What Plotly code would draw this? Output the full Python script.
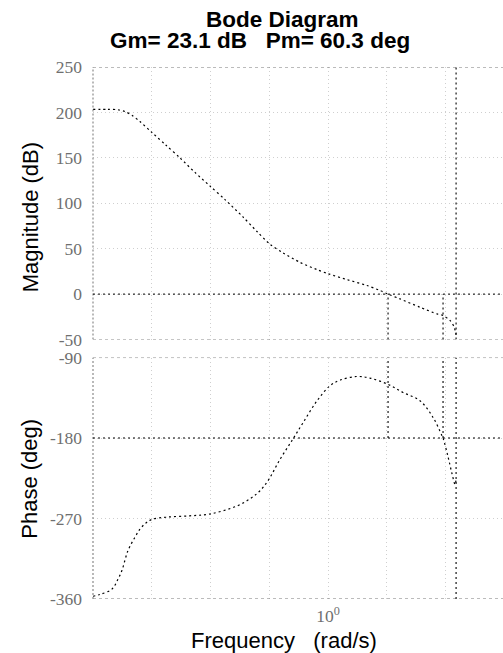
import plotly.graph_objects as go

# ---------------- data ----------------
mag_w = [0.3978, 0.4218, 0.4387, 0.4510, 0.4635, 0.4783, 0.5013, 0.5297, 0.5596, 0.5934,
         0.6295, 0.6677, 0.7164, 0.7568, 0.7963, 0.8381, 0.8960, 0.9578, 1.0, 1.0773,
         1.1653, 1.2262, 1.2656, 1.3265, 1.4349, 1.5337, 1.5702, 1.6139, 1.6397, 1.6526]
mag_db = [203.5, 203.5, 203, 201, 197, 190, 178, 164, 150, 134,
          119, 104, 85, 69, 55, 45.5, 35, 27, 22.5, 16,
          9.5, 4, 0, -5.3, -14.5, -21.8, -23.5, -29, -36, -45]

phase_w = [0.3978, 0.4088, 0.4285, 0.4387, 0.4457, 0.4563, 0.4690, 0.4783, 0.4896, 0.5013,
           0.5317, 0.5819, 0.6295, 0.6998, 0.7421, 0.7659, 0.7900, 0.8283, 0.8717, 0.9066,
           0.9578, 1.0079, 1.0482, 1.1205, 1.1792, 1.2656, 1.3421, 1.4349, 1.5099, 1.5640,
           1.5702, 1.6013, 1.6266, 1.6461, 1.6526]
phase_deg = [-357, -355, -349, -338, -328, -306, -291, -282, -275, -271,
             -268.5, -267, -265, -256, -246.5, -239, -228, -204, -181, -163,
             -138.4, -121.6, -115.3, -111.2, -113, -120, -129, -138.4, -157, -177.5,
             -180, -201, -220, -232, -226]

gain_margin_db = 23.1
phase_margin_deg = 60.3
w_gain_cross = 1.2656      # 0 dB crossover
w_phase_cross = 1.5702     # -180 deg crossover
w_nyquist = 1.6526

x_range_log = [-0.4003, 0.2981]
x_grid = [0.3981, 0.5012, 0.6310, 0.7943, 1.0, 1.2589, 1.5849]
x_ticktext = ["", "", "", "", "10<sup>0</sup>", "", ""]

mag_ticks = [-50, 0, 50, 100, 150, 200, 250]
mag_ticktext = ["-50", "0", "50", "100", "150", "200", "250"]
phase_ticks = [-360, -270, -180, -90]
phase_ticktext = ["-360", "-270", "-180", "-90"]

title_line1 = "Bode Diagram"
title_line2 = f"Gm= {gain_margin_db} dB   Pm= {phase_margin_deg} deg"

# ---------------- layout helpers ----------------
W, H = 503, 653
L = 93
PW = W - L
OFF = 10         # observed vertical inset of the rendered page
EFF = 632


def px(xp):
    return (xp - L) / PW


def py(yp):
    return 1 - (yp - OFF) / EFF


top_dom = [py(339), py(67)]
bot_dom = [py(598), py(357)]

tick_font = dict(family="Liberation Serif", size=17.5, color="#6f6f6f")
grid_col = "#cfcfcf"
border_col = "#8a8a8a"
curve_dash = "2px,3px"

fig = go.Figure()
fig.add_trace(go.Scatter(x=mag_w, y=mag_db, mode="lines", xaxis="x", yaxis="y",
                         line=dict(color="black", width=1.2, dash=curve_dash, shape="spline",
                                   smoothing=0.8),
                         showlegend=False, hoverinfo="skip"))
fig.add_trace(go.Scatter(x=phase_w, y=phase_deg, mode="lines", xaxis="x2", yaxis="y2",
                         line=dict(color="black", width=1.2, dash=curve_dash, shape="spline"),
                         showlegend=False, hoverinfo="skip"))

xcommon = dict(type="log", range=x_range_log, tickmode="array", tickvals=x_grid,
               showgrid=True, gridcolor=grid_col, griddash="1px,3px", gridwidth=1,
               zeroline=False, showline=False, ticks="", tickfont=tick_font)
ycommon = dict(showgrid=True, gridcolor=grid_col, griddash="1px,3px", gridwidth=1,
               zeroline=False, showline=False, ticks="", tickfont=tick_font,
               tickmode="array", ticklabelstandoff=10)

fig.update_layout(
    width=W, height=H,
    margin=dict(l=L, r=0, t=0, b=0),
    paper_bgcolor="white", plot_bgcolor="white",
    xaxis=dict(**xcommon, domain=[0, 1], anchor="y", showticklabels=False,
               ticktext=x_ticktext),
    xaxis2=dict(**xcommon, domain=[0, 1], anchor="y2", matches="x",
                ticktext=x_ticktext, ticklabelstandoff=5),
    yaxis=dict(**ycommon, domain=top_dom, range=[-50, 250], tickvals=mag_ticks,
               ticktext=mag_ticktext, anchor="x"),
    yaxis2=dict(**ycommon, domain=bot_dom, range=[-360, -90], tickvals=phase_ticks,
                ticktext=phase_ticktext, anchor="x2"),
)

shapes = []
# panel borders
for yref, lo, hi in (("y", -50, 250), ("y2", -360, -90)):
    xref = "x" if yref == "y" else "x2"
    for yv in (lo, hi):
        shapes.append(dict(type="line", xref=f"{xref} domain", yref=yref, x0=0, x1=1,
                           y0=yv, y1=yv, line=dict(color=border_col, width=1, dash="3px,3px")))
    shapes.append(dict(type="line", xref=f"{xref} domain", yref=yref, x0=0, x1=0,
                       y0=lo, y1=hi, line=dict(color=border_col, width=1.2, dash="2px,2px")))
# reference lines
shapes.append(dict(type="line", xref="x domain", yref="y", x0=0, x1=1, y0=0, y1=0,
                   line=dict(color="black", width=1, dash="2px,3px")))
shapes.append(dict(type="line", xref="x2 domain", yref="y2", x0=0, x1=1, y0=-180, y1=-180,
                   line=dict(color="black", width=1, dash="2px,3px")))
vline = dict(color="black", width=1.1, dash="2px,3px")
for wv in (w_gain_cross, w_phase_cross):
    shapes.append(dict(type="line", xref="x", yref="y", x0=wv, x1=wv, y0=-50, y1=0, line=vline))
    shapes.append(dict(type="line", xref="x2", yref="y2", x0=wv, x1=wv, y0=-180, y1=-90, line=vline))
shapes.append(dict(type="line", xref="x", yref="y", x0=w_nyquist, x1=w_nyquist, y0=-50, y1=250, line=vline))
shapes.append(dict(type="line", xref="x2", yref="y2", x0=w_nyquist, x1=w_nyquist, y0=-360, y1=-90, line=vline))
fig.update_layout(shapes=shapes)

title_font = dict(family="Liberation Sans", size=22.5, color="black")
label_font = dict(family="Liberation Sans", size=22, color="black")
nb = chr(160)
annotations = [
    dict(text=f"<b>{title_line1}</b>", x=px(282), y=py(19), xref="paper", yref="paper",
         showarrow=False, font=title_font, xanchor="center", yanchor="middle"),
    dict(text=f"<b>{title_line2.replace(' ', nb)}</b>", x=px(260), y=py(40),
         xref="paper", yref="paper", showarrow=False, font=title_font,
         xanchor="center", yanchor="middle"),
    dict(text="Magnitude (dB)", x=px(30), y=py(217), xref="paper", yref="paper",
         showarrow=False, font=label_font, textangle=-90, xanchor="center", yanchor="middle"),
    dict(text="Phase (deg)", x=px(30), y=py(478), xref="paper", yref="paper",
         showarrow=False, font=label_font, textangle=-90, xanchor="center", yanchor="middle"),
    dict(text=f"Frequency{nb}{nb}{nb}(rad/s)", x=px(284), y=py(640), xref="paper", yref="paper",
         showarrow=False, font=label_font, xanchor="center", yanchor="middle"),
]
fig.update_layout(annotations=annotations)

fig.write_html("out.html")
